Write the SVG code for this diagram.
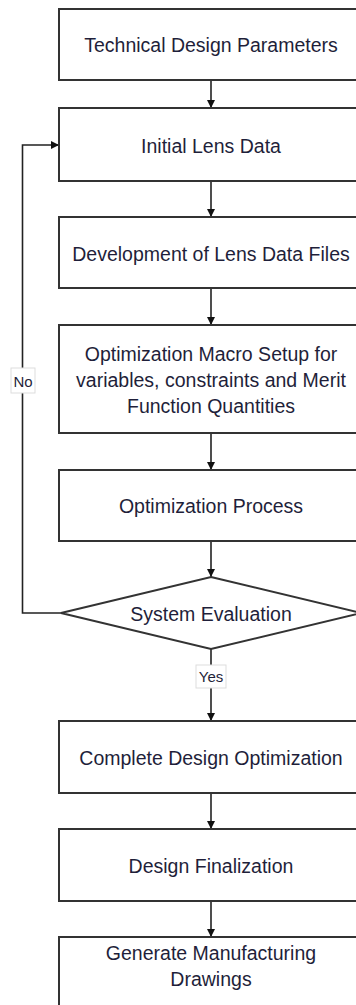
<svg xmlns="http://www.w3.org/2000/svg" width="356" height="1005" viewBox="0 0 356 1005">
<defs>
<marker id="arr" viewBox="0 0 10 10" refX="10" refY="5" markerWidth="8" markerHeight="8" markerUnits="userSpaceOnUse" orient="auto">
<path d="M0,0 L10,5 L0,10 z" fill="#111"/>
</marker>
<style>
.box{fill:#fff;stroke:#333;stroke-width:2}
.t{font-family:"Liberation Sans",Arial,sans-serif;font-size:19.5px;fill:#1f1f3a;text-anchor:middle;dominant-baseline:central}
.lbl{font-family:"Liberation Sans",Arial,sans-serif;font-size:15px;fill:#1f1f3a;text-anchor:middle;dominant-baseline:central}
.lblbg{fill:#fff;stroke:#ddd;stroke-width:1}
.c{fill:none;stroke:#222;stroke-width:1.6}
</style>
</defs>
<rect width="356" height="1005" fill="#fff"/>
<g id="connectors">
<line class="c" x1="211" y1="80" x2="211" y2="108" marker-end="url(#arr)"/>
<line class="c" x1="211" y1="181" x2="211" y2="217" marker-end="url(#arr)"/>
<line class="c" x1="211" y1="288" x2="211" y2="325" marker-end="url(#arr)"/>
<line class="c" x1="211" y1="433" x2="211" y2="470" marker-end="url(#arr)"/>
<line class="c" x1="211" y1="541" x2="211" y2="577" marker-end="url(#arr)"/>
<line class="c" x1="211" y1="649" x2="211" y2="721" marker-end="url(#arr)"/>
<line class="c" x1="211" y1="793" x2="211" y2="829" marker-end="url(#arr)"/>
<line class="c" x1="211" y1="901" x2="211" y2="937" marker-end="url(#arr)"/>
<polyline class="c" points="61,613 22.5,613 22.5,145 59,145" marker-end="url(#arr)"/>
<g id="label-no">
<rect class="lblbg" x="11" y="368" width="24" height="25"/>
<text class="lbl" x="23" y="381">No</text>
</g>
<g id="label-yes">
<rect class="lblbg" x="196" y="665" width="30" height="23"/>
<text class="lbl" x="211" y="676">Yes</text>
</g>
</g>
<g id="n1"><rect class="box" x="59" y="9" width="306" height="71"/><text class="t" x="211" y="45">Technical Design Parameters</text></g>
<g id="n2"><rect class="box" x="59" y="108" width="306" height="73"/><text class="t" x="211" y="146">Initial Lens Data</text></g>
<g id="n3"><rect class="box" x="59" y="217" width="306" height="71"/><text class="t" x="211" y="254">Development of Lens Data Files</text></g>
<g id="n4"><rect class="box" x="59" y="325" width="306" height="108"/>
<text class="t" x="211" y="354">Optimization Macro Setup for</text>
<text class="t" x="211" y="380">variables, constraints and Merit</text>
<text class="t" x="211" y="406">Function Quantities</text></g>
<g id="n5"><rect class="box" x="59" y="470" width="306" height="71"/><text class="t" x="211" y="506">Optimization Process</text></g>
<g id="n6"><polygon class="box" points="211,577 361,613 211,649 61,613"/><text class="t" x="211" y="614">System Evaluation</text></g>
<g id="n7"><rect class="box" x="59" y="721" width="306" height="72"/><text class="t" x="211" y="758">Complete Design Optimization</text></g>
<g id="n8"><rect class="box" x="59" y="829" width="306" height="72"/><text class="t" x="211" y="866">Design Finalization</text></g>
<g id="n9"><rect class="box" x="59" y="937" width="306" height="80"/>
<text class="t" x="211" y="953">Generate Manufacturing</text>
<text class="t" x="211" y="979">Drawings</text></g>
</svg>
